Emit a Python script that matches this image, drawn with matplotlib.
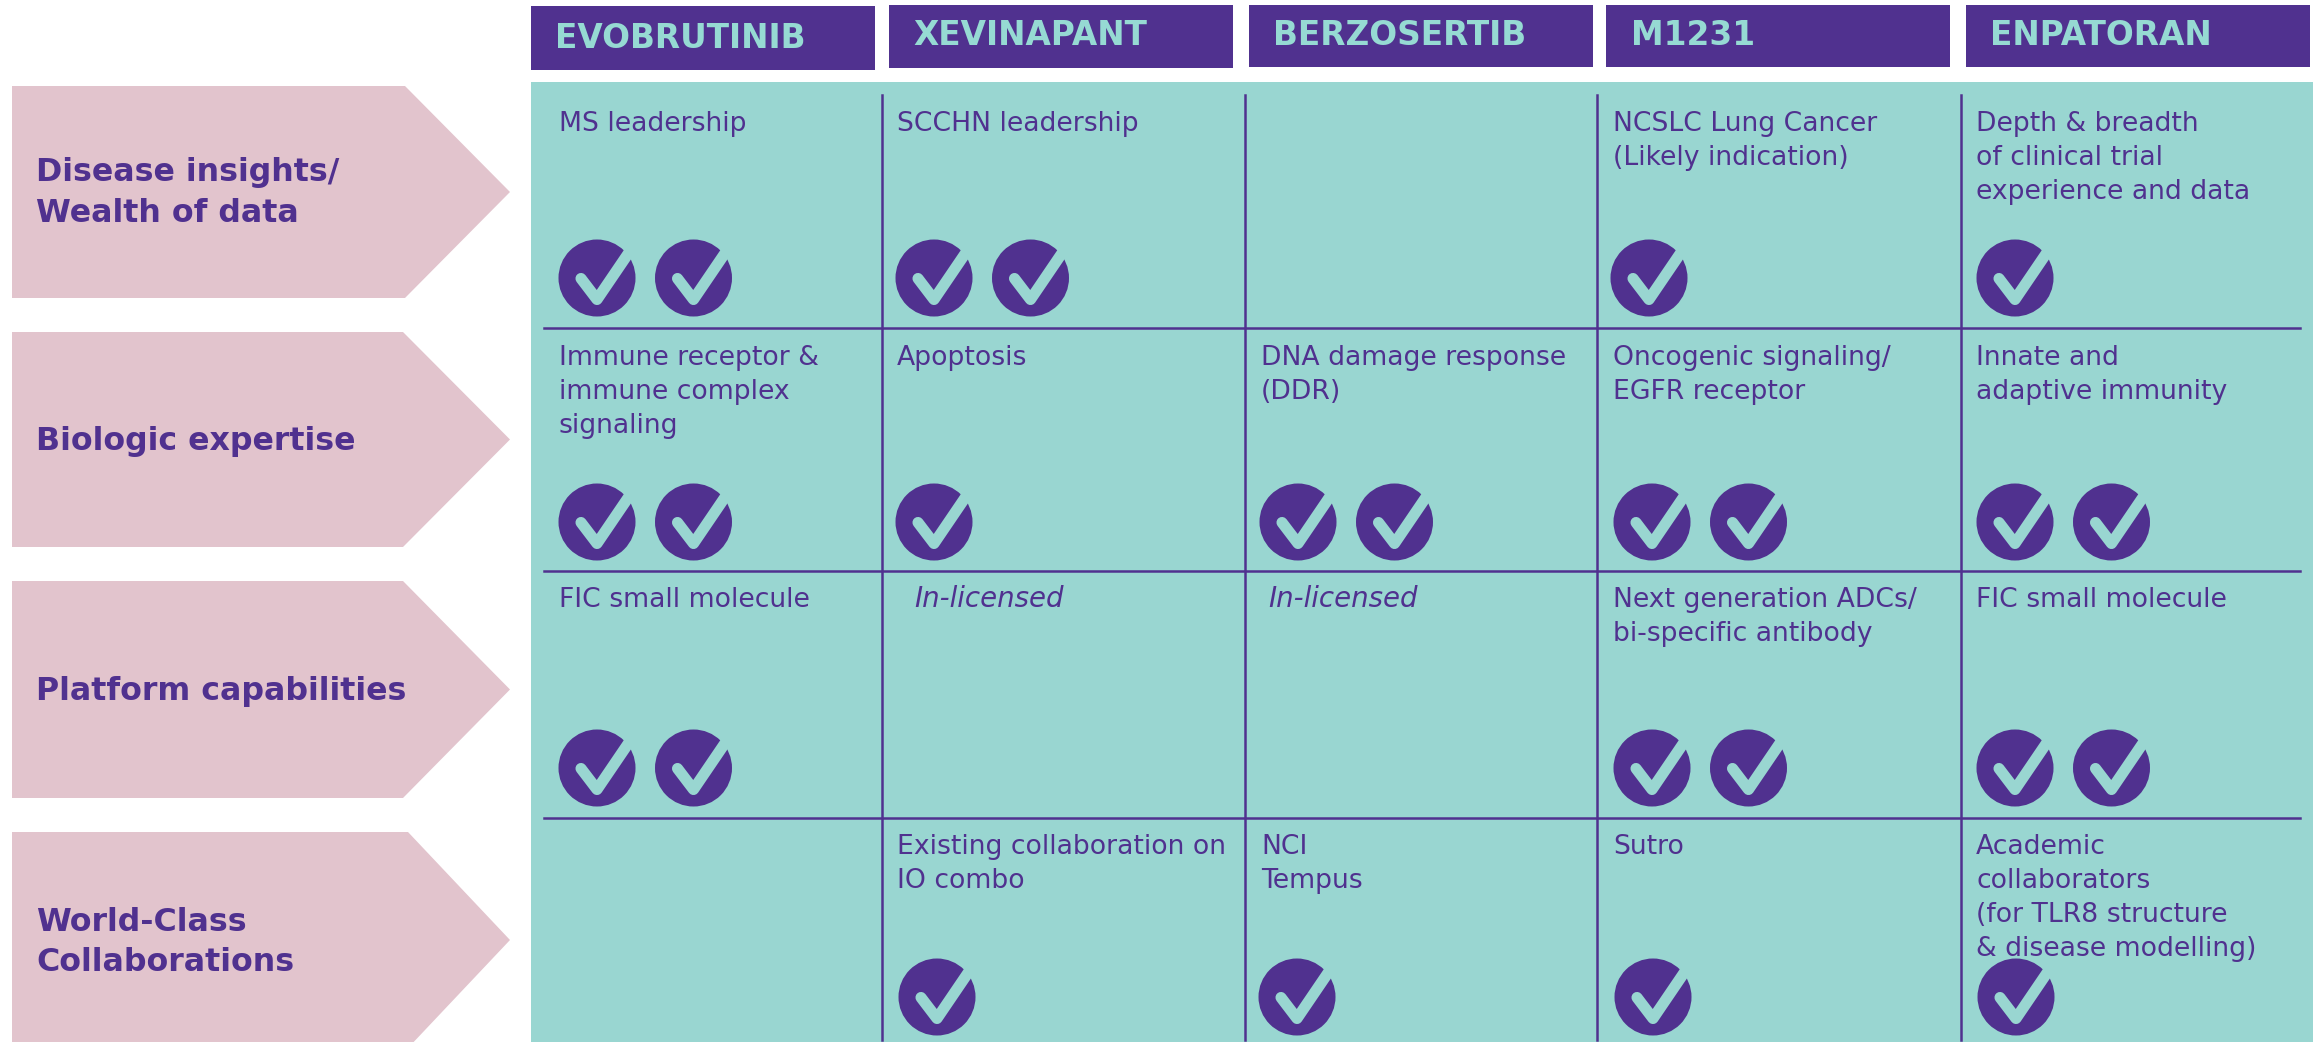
import matplotlib
matplotlib.use('Agg')
import matplotlib.pyplot as plt
from matplotlib.patches import Polygon, Rectangle, Circle
from matplotlib.lines import Line2D

# - Data

drugs = ['EVOBRUTINIB', 'XEVINAPANT', 'BERZOSERTIB', 'M1231', 'ENPATORAN']
capabilities = [['Disease insights/', 'Wealth of data'], ['Biologic expertise'],
                ['Platform capabilities'], ['World-Class', 'Collaborations']]

cell_text = [
    [['MS leadership'], ['SCCHN leadership'], [], ['NCSLC Lung Cancer', '(Likely indication)'],
     ['Depth & breadth', 'of clinical trial', 'experience and data']],
    [['Immune receptor &', 'immune complex', 'signaling'], ['Apoptosis'], ['DNA damage response', '(DDR)'],
     ['Oncogenic signaling/', 'EGFR receptor'], ['Innate and', 'adaptive immunity']],
    [['FIC small molecule'], ['In-licensed'], ['In-licensed'], ['Next generation ADCs/', 'bi-specific antibody'],
     ['FIC small molecule']],
    [[], ['Existing collaboration on', 'IO combo'], ['NCI', 'Tempus'], ['Sutro'],
     ['Academic', 'collaborators', '(for TLR8 structure', '& disease modelling)']],
]
check_counts = [
    [2, 2, 0, 1, 1],
    [2, 1, 2, 2, 2],
    [2, 0, 0, 2, 2],
    [0, 1, 1, 1, 1],
]

# - Layout, in pixels of the reference

PURPLE = '#50318F'
TEAL = '#99D6D1'
PINK = '#E2C4CD'
HEAD_TEXT = '#96DAD3'

header_left = [531, 889, 1249, 1606, 1966]
header_right = [875, 1233, 1593, 1950, 2310]
header_top = [6, 5, 5, 5, 5]
header_bottom = [70, 68, 67, 67, 67]
header_text_x = [555, 913, 1273, 1631, 1990]
header_base = [48, 45, 45, 45, 45]

chevron_top = [86, 332, 581, 832]
chevron_bottom = [298, 547, 798, 1048]
chevron_shoulder = [405, 403, 403, 408]
label_base = [[181, 222], [450], [700], [931, 971]]

v_lines = [882, 1245, 1597, 1961]
h_lines = [328, 571, 818]
text_x = [559, 897, 1261, 1613, 1976]
text_base = [131, 365, 607, 854]
row_check_y = [278, 522, 768, 997]
check_x = [[597, 934, 0, 1649, 2015],
           [597, 934, 1298, 1652, 2015],
           [597, 934, 1298, 1652, 2015],
           [597, 937, 1297, 1653, 2016]]

# - Plot

plt.rcParams['font.family'] = 'DejaVu Sans'
fig = plt.figure(figsize=(23.13, 10.42), dpi=100)
ax = fig.add_axes([0, 0, 1, 1])
ax.set_xlim(0, 2313)
ax.set_ylim(1042, 0)
ax.axis('off')


def draw_check(cx, cy):
    ax.add_patch(Circle((cx, cy), 38.5, fc=PURPLE, ec='none', zorder=3))
    ax.add_line(Line2D([cx - 16, cx, cx + 35], [cy + 0.5, cy + 21.5, cy - 30], color=TEAL, lw=8,
                       solid_capstyle='round', solid_joinstyle='round', zorder=4))


# header boxes
for i, name in enumerate(drugs):
    ax.add_patch(Rectangle((header_left[i], header_top[i]), header_right[i] - header_left[i],
                           header_bottom[i] - header_top[i], fc=PURPLE, ec='none'))
    ax.text(header_text_x[i], header_base[i], name, color=HEAD_TEXT, fontsize=23.6, fontweight='bold', va='baseline')

# teal panel and grid
ax.add_patch(Rectangle((531, 82), 2313 - 531, 1042 - 82, fc=TEAL, ec='none'))
for x in v_lines:
    ax.add_line(Line2D([x, x], [95, 1040], color=PURPLE, lw=1.8, zorder=2))
for y in h_lines:
    ax.add_line(Line2D([544, 2300], [y, y], color=PURPLE, lw=1.8, zorder=2))

# row arrows
for r, label in enumerate(capabilities):
    top, bottom, sh = chevron_top[r], chevron_bottom[r], chevron_shoulder[r]
    ax.add_patch(Polygon([(12, top), (sh, top), (510, (top + bottom) / 2), (sh, bottom), (12, bottom)],
                         fc=PINK, ec='none'))
    for line, base in zip(label, label_base[r]):
        ax.text(36, base, line, color=PURPLE, fontsize=22.8, fontweight='bold', va='baseline')

# cells
for r in range(len(capabilities)):
    for c in range(len(drugs)):
        italic = cell_text[r][c] == ['In-licensed']
        for k, line in enumerate(cell_text[r][c]):
            x = text_x[c] + (17 if italic and c == 1 else 7 if italic else 0)
            ax.text(x, text_base[r] + k * 33.9, line, color=PURPLE, fontsize=19.9 if italic else 19.2, va='baseline',
                    style='italic' if italic else 'normal', zorder=5)
        for n in range(check_counts[r][c]):
            draw_check(check_x[r][c] + n * 96.5, row_check_y[r])

fig.savefig('out.png', dpi=100)
